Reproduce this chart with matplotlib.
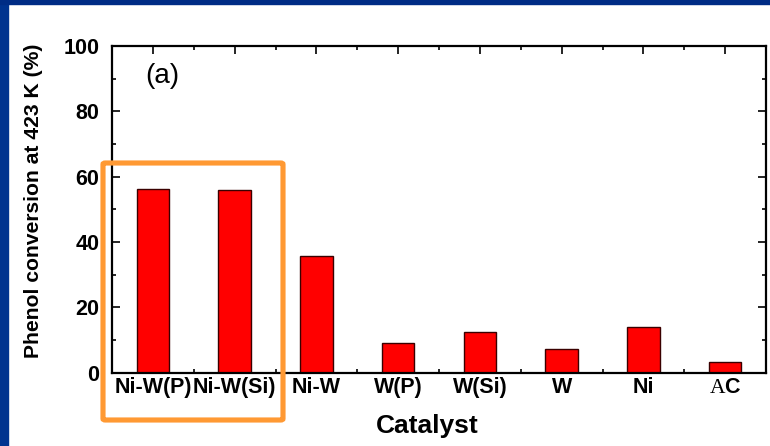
import matplotlib
matplotlib.use("Agg")
import matplotlib.pyplot as plt
from matplotlib.patches import Rectangle, FancyBboxPatch
from matplotlib.ticker import MultipleLocator, FixedLocator
import numpy as np

plt.rcParams['font.family'] = ['Liberation Sans', 'DejaVu Sans']
plt.rcParams['mathtext.fontset'] = 'custom'
plt.rcParams['mathtext.rm'] = 'Liberation Serif'

categories = ["Ni-W(P)", "Ni-W(Si)", "Ni-W", "W(P)", "W(Si)", "W", "Ni", r"$\mathrm{A}$C"]
conversion = [56.1, 55.8, 35.7, 9.2, 12.6, 7.2, 14.1, 3.2]
y_ticks = [0, 20, 40, 60, 80, 100]
panel_label = "(a)"
y_label = "Phenol conversion at 423 K (%)"
x_label = "Catalyst"

W, H = 770, 446
fig = plt.figure(figsize=(W / 100, H / 100), dpi=100)
fig.patch.set_facecolor("white")

# dark blue slide border
blue = "#00338F"
fig.patches.append(Rectangle((0, 0), 8 / W, 1, transform=fig.transFigure, color=blue, zorder=0))
fig.patches.append(Rectangle((0, 1 - 3.5 / H), 1, 3.5 / H, transform=fig.transFigure, color="#002C85", zorder=0))

ax = fig.add_axes([112 / W, 1 - 372.7 / H, 654 / W, (372.7 - 46) / H])
x = np.arange(len(categories))
ax.bar(x, conversion, width=0.4, color="#FF0000", edgecolor="#3A0000", linewidth=1.0, zorder=2)

ax.set_xlim(-0.5, len(categories) - 0.5)
ax.set_ylim(0, 100)
ax.set_yticks(y_ticks)
ax.yaxis.set_minor_locator(MultipleLocator(10))
ax.set_xticks(x)
ax.set_xticklabels(categories)
ax.xaxis.set_minor_locator(FixedLocator(x[:-1] + 0.5))

for lbl in ax.get_xticklabels() + ax.get_yticklabels():
    lbl.set_fontweight("bold")
    lbl.set_fontsize(15.5)

ax.tick_params(axis="both", which="major", direction="in", length=6, width=1.2,
               top=True, right=True, colors="black", zorder=3)
ax.tick_params(axis="both", which="minor", direction="in", length=3, width=1.2,
               top=True, right=True)
ax.tick_params(axis="y", which="major", pad=9)
ax.tick_params(axis="x", which="major", pad=3)
for s in ax.spines.values():
    s.set_linewidth(1.6)
    s.set_zorder(4)

ax.set_ylabel(y_label, fontsize=15.2, fontweight="bold", va="center")
ax.yaxis.set_label_coords((34 - 112) / 654, (372.7 - 201) / 326.7)
ax.set_xlabel(x_label, fontsize=19, fontweight="bold", va="center")
ax.xaxis.set_label_coords((427.5 - 112) / 654, (372.7 - 426) / 326.7)

ax.text((145 - 112) / 654, (372.7 - 76) / 326.7, panel_label, transform=ax.transAxes,
        fontsize=20, ha="left", va="center")

# orange highlight box
x0, y0, x1, y1 = 103, 163, 283, 420
fig.patches.append(FancyBboxPatch((x0 / W, 1 - y1 / H), (x1 - x0) / W, (y1 - y0) / H,
                                  boxstyle="round,pad=0,rounding_size=0.003",
                                  transform=fig.transFigure, fill=False,
                                  edgecolor="#FF9933", linewidth=3.7, zorder=10))

fig.savefig("out.png", dpi=100)
